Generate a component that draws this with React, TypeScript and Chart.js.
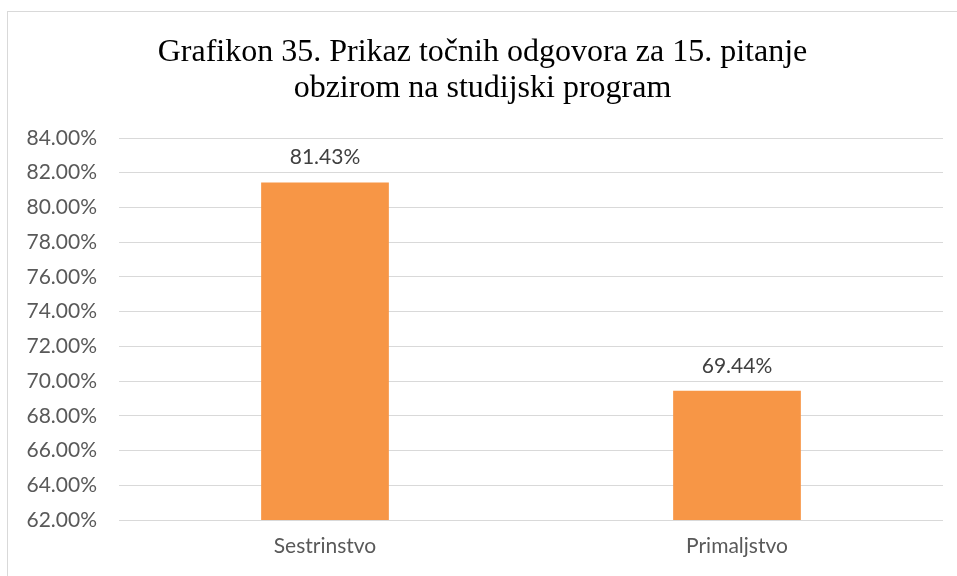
import React, { useEffect, useRef } from "react";
import { Chart, registerables } from "chart.js";

Chart.register(...registerables);

const categories = ["Sestrinstvo", "Primaljstvo"];
const values = [81.43, 69.44];
const titleLines = ["Grafikon 35. Prikaz točnih odgovora za 15. pitanje", "obzirom na studijski program"];
const yMin = 62;
const yMax = 84;
const yStep = 2;

const borderPlugin = {
  id: "outerBorder",
  beforeDraw(chart: any) {
    const ctx = chart.ctx;
    ctx.save();
    ctx.fillStyle = "#ffffff";
    ctx.fillRect(0, 0, chart.width, chart.height);
    ctx.strokeStyle = "#d9d9d9";
    ctx.lineWidth = 1;
    ctx.strokeRect(7.5, 11.5, chart.width + 10, chart.height + 10);
    ctx.restore();
  },
};

const labelPlugin = {
  id: "valueLabels",
  afterDatasetsDraw(chart: any) {
    const ctx = chart.ctx;
    const meta = chart.getDatasetMeta(0);
    ctx.save();
    ctx.font = "21px Lato";
    ctx.fillStyle = "#404040";
    ctx.textAlign = "center";
    ctx.textBaseline = "middle";
    meta.data.forEach((bar: any, i: number) => {
      const v = chart.data.datasets[0].data[i] as number;
      ctx.fillText(v.toFixed(2) + "%", bar.x, bar.y - 25);
    });
    ctx.restore();
  },
};

export default function App() {
  const ref = useRef<HTMLCanvasElement>(null);
  useEffect(() => {
    document.body.style.margin = "0";
    const chart = new Chart(ref.current!, {
      type: "bar",
      data: {
        labels: categories,
        datasets: [
          {
            data: values,
            backgroundColor: "#F79646",
            barPercentage: 0.31,
            categoryPercentage: 1,
          },
        ],
      },
      options: {
        animation: false,
        responsive: false,
        layout: { padding: { left: 22, right: 14, top: 0, bottom: 16 } },
        plugins: {
          legend: { display: false },
          tooltip: { enabled: false },
          title: {
            display: true,
            text: titleLines,
            color: "#000000",
            font: { family: "Liberation Serif", size: 32, weight: "normal", lineHeight: 1.125 },
            padding: { top: 35, bottom: 31 },
          },
        },
        scales: {
          x: {
            afterFit: (s: any) => {
              s.height = 40;
            },
            grid: { display: false, drawTicks: false },
            border: { display: false },
            ticks: { color: "#595959", font: { family: "Lato", size: 21 }, padding: 14 },
          },
          y: {
            min: yMin,
            max: yMax,
            afterFit: (s: any) => {
              s.width = 97;
            },
            grid: { color: "#d9d9d9", drawTicks: false },
            border: { display: false },
            ticks: {
              stepSize: yStep,
              color: "#595959",
              font: { family: "Lato", size: 21 },
              padding: 22,
              callback: (v: any) => Number(v).toFixed(2) + "%",
            },
          },
        },
      },
      plugins: [borderPlugin, labelPlugin],
    });
    return () => chart.destroy();
  }, []);
  return <canvas ref={ref} width={957} height={576} />;
}
